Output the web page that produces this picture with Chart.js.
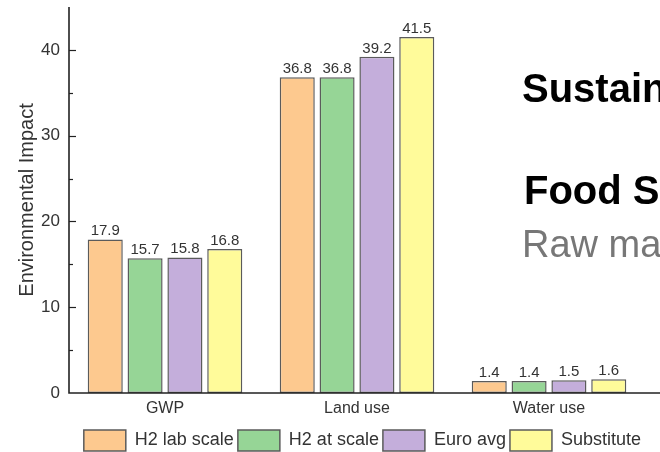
<!DOCTYPE html>
<html>
<head>
<meta charset="utf-8">
<script src="https://cdn.jsdelivr.net/npm/chart.js@4.4.0/dist/chart.umd.min.js"></script>
<style>
  html, body { margin: 0; padding: 0; background: #fff; overflow: hidden; }
  #wrap { position: relative; width: 660px; height: 452px; overflow: hidden; }
  #impactChart { position: absolute; left: 0; top: 0; }
  .side { position: absolute; left: 522px; white-space: nowrap; font-family: "Liberation Sans", Arial, sans-serif; line-height: 1; }
  .bold { font-weight: bold; font-size: 40px; color: #000; }
  .grey { font-size: 38px; color: #777; }
</style>
</head>
<body>
<div id="wrap">
  <canvas id="impactChart" width="660" height="452"></canvas>
  <div class="side bold" style="top:68px">Sustainability</div>
  <div class="side bold" style="top:170px; left:524px">Food Safety</div>
  <div class="side grey" style="top:225px">Raw materials</div>
</div>
<script>
// impact categories and scenarios
var categories = ['GWP', 'Land use', 'Water use'];
var h2Lab = [17.9, 36.8, 1.4];
var h2Scale = [15.7, 36.8, 1.4];
var euroAvg = [15.8, 39.2, 1.5];
var substitute = [16.8, 41.5, 1.6];
var seriesNames = ['H2 lab scale', 'H2 at scale', 'Euro avg', 'Substitute'];
var yTicks = [0, 10, 20, 30, 40];

var fills = ['#fdc98f', '#96d596', '#c4aedb', '#fffb9a'];
var edge = '#5b5b5b';
var font = '"Liberation Sans", Arial, sans-serif';

// value labels above the bars
var valueLabels = {
    id: 'valueLabels',
    afterDatasetsDraw: function (chart) {
        var ctx = chart.ctx;
        ctx.save();
        ctx.font = '15px ' + font;
        ctx.fillStyle = '#333';
        ctx.textAlign = 'center';
        ctx.textBaseline = 'alphabetic';
        chart.data.datasets.forEach(function (ds, i) {
            chart.getDatasetMeta(i).data.forEach(function (bar, j) {
                ctx.fillText(ds.data[j].toFixed(1), bar.x, bar.y - 4);
            });
        });
        ctx.restore();
    }
};

// plain axis lines with inward ticks
var axisLines = {
    id: 'axisLines',
    afterDraw: function (chart) {
        var ctx = chart.ctx, a = chart.chartArea, y = chart.scales.y;
        ctx.save();
        ctx.strokeStyle = '#222';
        ctx.lineWidth = 1.6;
        ctx.beginPath();
        ctx.moveTo(a.left, a.top);
        ctx.lineTo(a.left, a.bottom);
        ctx.lineTo(chart.width, a.bottom);
        ctx.stroke();
        ctx.lineWidth = 1.2;
        for (var v = 5; v < 45; v += 5) {
            var py = Math.round(y.getPixelForValue(v)) + 0.5;
            var len = v % 10 === 0 ? 7 : 4;
            ctx.beginPath();
            ctx.moveTo(a.left, py);
            ctx.lineTo(a.left + len, py);
            ctx.stroke();
        }
        ctx.restore();
    }
};

var data = {
    labels: categories,
    datasets: [h2Lab, h2Scale, euroAvg, substitute].map(function (vals, i) {
        return {
            label: seriesNames[i],
            data: vals,
            backgroundColor: fills[i],
            borderColor: edge,
            borderWidth: 1.5,
            borderSkipped: false,
            categoryPercentage: 0.83,
            barPercentage: 0.88
        };
    })
};

new Chart(document.getElementById('impactChart'), {
    type: 'bar',
    data: data,
    plugins: [valueLabels, axisLines],
    options: {
        responsive: false,
        animation: false,
        layout: { padding: { top: 7, right: 15, left: 0, bottom: -9 } },
        plugins: {
            tooltip: { enabled: false },
            legend: {
                position: 'bottom',
                align: 'end',
                labels: {
                    boxWidth: 42,
                    boxHeight: 21,
                    padding: 4,
                    color: '#333',
                    font: { family: font, size: 18 }
                }
            }
        },
        scales: {
            x: {
                grid: { display: false, drawTicks: false },
                border: { display: false },
                ticks: { color: '#333', padding: 6, font: { family: font, size: 16 } },
                afterFit: function (s) {
                    s.height = 33;
                    s.paddingLeft = 0;
                    s.paddingRight = 0;
                }
            },
            y: {
                min: 0,
                max: 45,
                afterBuildTicks: function (s) {
                    s.ticks = yTicks.map(function (v) { return { value: v }; });
                },
                grid: { display: false, drawTicks: false },
                border: { display: false },
                ticks: { color: '#333', padding: 9, font: { family: font, size: 17 } },
                title: {
                    display: true,
                    text: 'Environmental Impact',
                    color: '#333',
                    padding: { top: 15, bottom: 0 },
                    font: { family: font, size: 20 }
                },
                afterFit: function (s) {
                    s.width = 69;
                    s.paddingTop = 0;
                    s.paddingBottom = 0;
                }
            }
        }
    }
});
</script>
</body>
</html>
